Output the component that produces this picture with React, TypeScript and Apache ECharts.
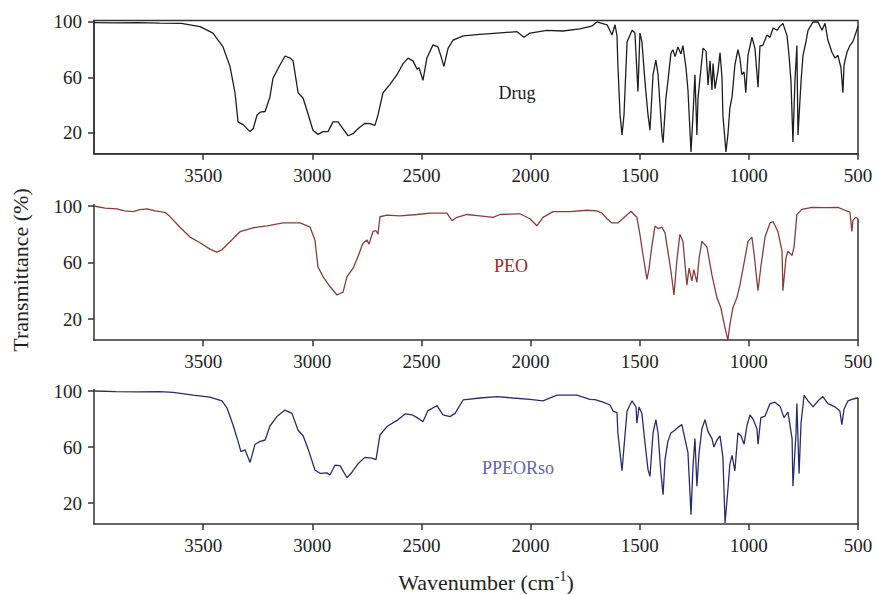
import React, { useEffect, useRef } from "react";
import * as echarts from "echarts";

const xTicks = [3500, 3000, 2500, 2000, 1500, 1000, 500];
const yTicks = [20, 60, 100];
const panelNames = ["Drug", "PEO", "PPEORso"];

const drugData: number[][] = [
  [4000, 99.5], [3900, 99.3], [3800, 99.6], [3700, 99.2], [3600, 99], [3514, 96.6], [3455, 92], [3409, 82], [3377, 68], [3354, 49], [3340, 28], [3317, 26], [3285, 21], [3271, 23], [3253, 33], [3239, 35], [3216, 35.5], [3194, 46], [3180, 59.5], [3148, 69], [3125, 75.5], [3102, 74], [3088, 72], [3065, 49], [3042, 45], [3020, 34], [2997, 22], [2974, 19], [2951, 21], [2928, 21], [2905, 28], [2882, 28], [2859, 23], [2836, 18], [2813, 19.5], [2791, 23], [2759, 27], [2736, 26.7], [2713, 25.5], [2699, 33], [2676, 49], [2644, 55], [2612, 62], [2584, 70], [2561, 74], [2539, 72], [2520, 66], [2511, 67], [2493, 58], [2475, 74], [2447, 83.5], [2424, 82], [2410, 75], [2397, 68], [2378, 81], [2355, 87], [2309, 90], [2232, 91], [2154, 92], [2062, 93], [2030, 89], [2003, 92], [1925, 94], [1852, 93.5], [1774, 95], [1720, 97], [1696, 100], [1673, 99], [1650, 98], [1640, 95], [1627, 90.6], [1613, 98], [1604, 90], [1600, 69], [1590, 33], [1581, 18.6], [1572, 33], [1558, 85.6], [1535, 94], [1522, 92], [1508, 50], [1499, 92], [1490, 86], [1476, 57], [1462, 33], [1453, 22], [1439, 62], [1426, 72.6], [1416, 62], [1398, 18.6], [1393, 13], [1380, 45], [1371, 57], [1357, 77.6], [1348, 80], [1338, 75], [1325, 82], [1311, 77], [1302, 83], [1288, 67], [1279, 51], [1265, 6.4], [1256, 33], [1247, 62], [1238, 18.6], [1233, 45], [1219, 67], [1210, 81], [1196, 79], [1187, 54.6], [1178, 72], [1169, 51], [1164, 70], [1155, 52], [1141, 65], [1132, 78], [1123, 59.6], [1119, 33], [1105, 6.4], [1096, 18.6], [1087, 38], [1077, 46], [1064, 69], [1050, 80], [1041, 74], [1032, 62], [1022, 64], [1014, 49], [1004, 76], [986, 89], [972, 81], [958, 53], [949, 83], [936, 83], [917, 90.6], [903, 89], [889, 95.7], [871, 94], [857, 97], [844, 99], [825, 90], [816, 76], [807, 57], [798, 13.6], [789, 57], [780, 83], [775, 18.6], [761, 57], [752, 76], [738, 86], [729, 94], [706, 100], [683, 100], [665, 94], [651, 99], [638, 87], [619, 78], [605, 74], [592, 76], [578, 67], [569, 49], [564, 69], [551, 78], [537, 83], [523, 86], [510, 92], [500, 97],
];

const peoData: number[][] = [
  [4000, 100], [3950, 98.5], [3895, 98], [3860, 96.5], [3821, 96], [3790, 97.5], [3757, 98], [3720, 96.5], [3698, 96], [3675, 95.5], [3652, 92.5], [3606, 85], [3560, 78], [3514, 74], [3469, 69.5], [3437, 67.4], [3414, 69], [3377, 74.7], [3331, 81.8], [3271, 84.6], [3207, 86], [3134, 88], [3056, 88], [3010, 85], [2988, 76], [2974, 57], [2951, 50], [2919, 43], [2887, 37], [2859, 39], [2841, 50], [2813, 56], [2791, 64], [2768, 73.6], [2750, 76], [2740, 73], [2722, 82], [2708, 82.5], [2699, 80], [2690, 92.4], [2658, 93.6], [2598, 93], [2520, 94], [2461, 95], [2383, 95], [2360, 89.6], [2337, 92], [2291, 94], [2232, 93], [2172, 92], [2140, 94], [2049, 94.5], [2003, 91], [1971, 86], [1943, 92], [1897, 96], [1820, 96], [1742, 97], [1696, 96.5], [1673, 95], [1650, 91], [1627, 88], [1600, 88], [1567, 92.6], [1540, 96.3], [1513, 92], [1499, 79.7], [1485, 65.5], [1467, 48], [1458, 55], [1444, 72], [1430, 85.8], [1416, 84], [1398, 85], [1384, 81], [1371, 68], [1357, 54], [1343, 37], [1330, 61], [1316, 80], [1302, 75], [1284, 44], [1274, 56], [1261, 47], [1252, 55], [1238, 46], [1228, 63], [1215, 75], [1192, 71], [1169, 51], [1146, 35], [1128, 27.8], [1109, 13.6], [1096, 5], [1087, 16], [1073, 28], [1055, 35], [1041, 44], [1018, 63], [1004, 75], [986, 78], [976, 66], [963, 47], [958, 40], [945, 57], [926, 78], [903, 88], [889, 89], [867, 82], [848, 68], [844, 40], [830, 63], [821, 68], [802, 65], [793, 71], [780, 94], [757, 97.6], [711, 99], [651, 98.8], [592, 99], [560, 97], [537, 95.6], [528, 82], [523, 90], [510, 92], [500, 91],
];

const ppeorData: number[][] = [
  [4000, 100], [3900, 99.6], [3800, 99.4], [3700, 99.5], [3637, 99], [3546, 97], [3469, 95.6], [3414, 93], [3391, 88], [3363, 75.7], [3340, 64], [3327, 56.7], [3308, 58], [3285, 49], [3262, 62], [3239, 64], [3216, 65], [3194, 75], [3162, 81.7], [3125, 86.4], [3093, 84], [3065, 72], [3042, 68], [3020, 59], [2988, 43.6], [2965, 41.2], [2933, 41.5], [2919, 40], [2896, 47], [2873, 46.7], [2841, 38], [2818, 42], [2791, 48], [2759, 52.6], [2727, 52], [2708, 51], [2690, 68.6], [2658, 74.6], [2612, 79], [2575, 83.6], [2543, 83], [2520, 81], [2493, 78], [2470, 86], [2429, 89.5], [2401, 83], [2369, 81.7], [2346, 84], [2309, 93.6], [2232, 95], [2154, 96], [2081, 95], [2003, 94], [1943, 93], [1879, 97], [1788, 97], [1728, 94], [1705, 93.8], [1668, 92], [1636, 90], [1622, 85.7], [1604, 84.6], [1600, 70], [1590, 55.7], [1581, 43], [1572, 60], [1558, 85.7], [1535, 93], [1517, 88.6], [1513, 77], [1503, 88.6], [1490, 84], [1476, 63], [1462, 43.8], [1453, 39], [1439, 70], [1426, 79.5], [1416, 70], [1403, 41.6], [1393, 26], [1384, 51], [1371, 64], [1357, 70], [1339, 72], [1325, 74], [1307, 76], [1293, 66], [1279, 56], [1265, 11.7], [1256, 46], [1247, 66], [1238, 32], [1228, 56], [1215, 73], [1201, 79.5], [1187, 71], [1169, 66], [1160, 60], [1146, 65], [1132, 68], [1119, 53], [1109, 5.7], [1096, 29.5], [1087, 48], [1077, 54], [1064, 43], [1050, 70], [1036, 68], [1022, 62], [1009, 75], [995, 83], [981, 80], [963, 73], [958, 62], [945, 81], [926, 82], [903, 91], [880, 92], [857, 89], [839, 81], [821, 85], [802, 66], [798, 32], [784, 70], [780, 91], [770, 41], [761, 77], [747, 97], [729, 93], [706, 88.6], [683, 93], [661, 96], [638, 91], [605, 88.6], [583, 85.7], [574, 76], [564, 87], [546, 93], [528, 94], [505, 95], [500, 95],
];

const seriesData = [drugData, peoData, ppeorData];
const lineColors = ["#1e1e1e", "#8a3c3c", "#2a2a72"];
const labelColors = ["#1a1a1a", "#a3262a", "#6262b8"];

const FONT = "'Liberation Serif', 'Times New Roman', serif";
const AXIS_COLOR = "#333";

const grids = [
  { top: 20.6, height: 133.2 },
  { top: 204.6, height: 135.6 },
  { top: 389.6, height: 134.4 },
];
const labelPos = [
  [517, 93],
  [511, 266],
  [518, 468],
];

export default function App() {
  const ref = useRef<HTMLDivElement>(null);
  useEffect(() => {
    if (!ref.current) return;
    const chart = echarts.init(ref.current, undefined, { renderer: "svg" });
    const option: any = {
      animation: false,
      backgroundColor: "#fff",
      grid: grids.map((g, i) => ({
        left: 94,
        right: 19,
        top: g.top,
        height: g.height,
        show: i === 0,
        borderColor: AXIS_COLOR,
        borderWidth: 1.5,
      })),
      xAxis: grids.map((_, i) => ({
        type: "value",
        gridIndex: i,
        min: 500,
        max: 4000,
        inverse: true,
        axisLine: { show: true, lineStyle: { color: AXIS_COLOR, width: 1.5 } },
        axisTick: { show: true, customValues: xTicks, length: 6, lineStyle: { color: AXIS_COLOR, width: 1.5 } },
        axisLabel: {
          customValues: xTicks,
          formatter: (v: number) => String(v),
          fontFamily: FONT,
          fontSize: 19,
          color: "#222",
          margin: 12,
        },
        splitLine: { show: false },
      })),
      yAxis: grids.map((_, i) => ({
        type: "value",
        gridIndex: i,
        min: 5,
        max: 101,
        axisLine: { show: true, lineStyle: { color: AXIS_COLOR, width: 1.5 } },
        axisTick: { show: true, customValues: yTicks, length: 6, lineStyle: { color: AXIS_COLOR, width: 1.5 } },
        axisLabel: {
          customValues: yTicks,
          formatter: (v: number) => String(v),
          fontFamily: FONT,
          fontSize: 19,
          color: "#222",
          margin: 12,
        },
        splitLine: { show: false },
      })),
      series: seriesData.map((d, i) => ({
        type: "line",
        name: panelNames[i],
        xAxisIndex: i,
        yAxisIndex: i,
        data: d,
        showSymbol: false,
        symbol: "none",
        lineStyle: { color: lineColors[i], width: 1.3 },
        markLine:
          i === 0
            ? undefined
            : {
                silent: true,
                symbol: "none",
                label: { show: false },
                lineStyle: { color: AXIS_COLOR, width: 1.5, type: "solid" },
                data: [[{ coord: [500, 5] }, { coord: [500, d[d.length - 1][1]] }]],
              },
      })),
      graphic: [
        ...panelNames.map((n, i) => ({
          type: "text",
          x: labelPos[i][0],
          y: labelPos[i][1],
          style: {
            text: n,
            fill: labelColors[i],
            font: `18px ${FONT}`,
            align: "center",
            verticalAlign: "middle",
          },
        })),
        {
          type: "text",
          x: 20,
          y: 270,
          rotation: Math.PI / 2,
          style: {
            text: "Transmittance (%)",
            fill: "#222",
            font: `22px ${FONT}`,
            align: "center",
            verticalAlign: "middle",
          },
        },
        {
          type: "text",
          x: 486,
          y: 582,
          style: {
            text: "{a|Wavenumber (cm}{s|-1}{a|)}",
            align: "center",
            verticalAlign: "middle",
            rich: {
              a: { fontFamily: FONT, fontSize: 22, fill: "#222", color: "#222", lineHeight: 26 },
              s: { fontFamily: FONT, fontSize: 14, fill: "#222", color: "#222", verticalAlign: "top" },
            },
          },
        },
      ],
    };
    chart.setOption(option);
    return () => chart.dispose();
  }, []);
  return (
    <div
      ref={ref}
      style={{ position: "fixed", left: 0, top: 0, width: 877, height: 594 }}
    />
  );
}
